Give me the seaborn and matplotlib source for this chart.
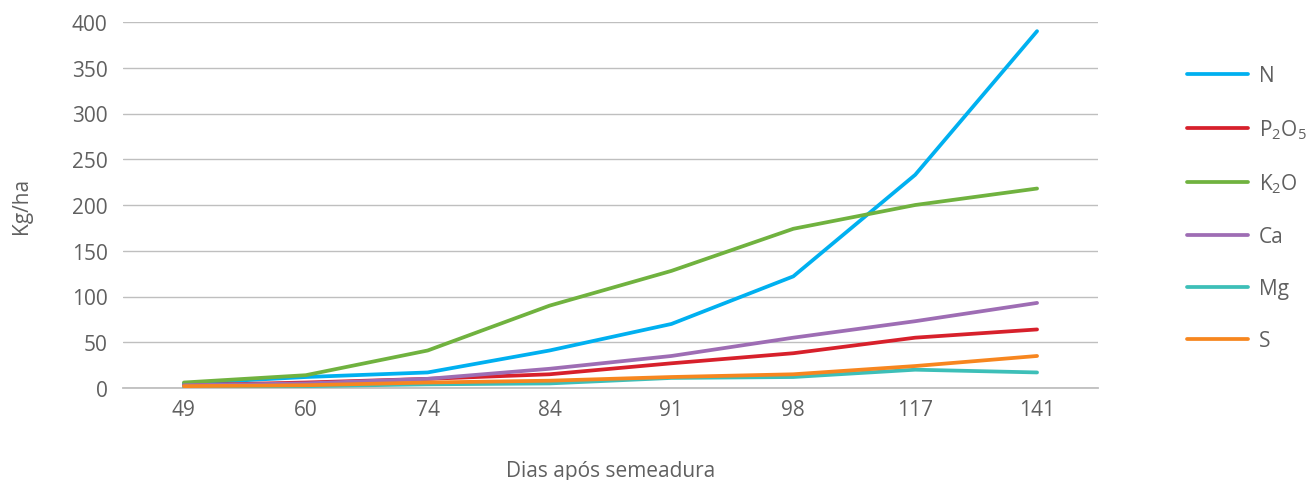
import matplotlib
matplotlib.use("Agg")
import matplotlib.pyplot as plt
import seaborn as sns
import pandas as pd
from matplotlib.lines import Line2D

days = ["49", "60", "74", "84", "91", "98", "117", "141"]
N = [5, 12, 17, 41, 70, 122, 233, 390]
P2O5 = [3, 6, 10, 15, 27, 38, 55, 64]
K2O = [6, 14, 41, 90, 128, 174, 200, 218]
Ca = [3, 5, 10, 21, 35, 55, 73, 93]
Mg = [1, 2, 4, 5, 11, 12, 20, 17]
S = [2, 3, 6, 8, 12, 15, 24, 35]

series_names = ["N", "P2O5", "K2O", "Ca", "Mg", "S"]
series_labels = ["N", r"P$_2$O$_5$", r"K$_2$O", "Ca", "Mg", "S"]
series_values = [N, P2O5, K2O, Ca, Mg, S]
colors = ["#00B0F0", "#D7202B", "#70B23F", "#9E6DB4", "#3DBFB8", "#F7861F"]

sns.set_theme(style="white")
plt.rcParams["font.family"] = ["Open Sans", "DejaVu Sans"]
plt.rcParams["mathtext.fontset"] = "custom"
plt.rcParams["mathtext.rm"] = "Open Sans"
plt.rcParams["mathtext.it"] = "Open Sans"

rows = []
for name, vals in zip(series_names, series_values):
    for d, v in zip(days, vals):
        rows.append({"day": d, "value": v, "nutrient": name})
df = pd.DataFrame(rows)

fig = plt.figure(figsize=(13.06, 4.81), dpi=100)
ax = fig.add_axes([123 / 1306, 1 - 389 / 481, (1098 - 123) / 1306, (389 - 23) / 481])

sns.lineplot(data=df, x="day", y="value", hue="nutrient", hue_order=series_names,
             palette=colors, linewidth=2.7, sort=False, legend=False, ax=ax, zorder=3)

ax.set_xlim(-0.5, len(days) - 0.5)
ax.set_ylim(0, 400)
ax.set_yticks(range(0, 401, 50))
ax.yaxis.grid(True, color="#BFBFBF", linewidth=1.0)
ax.xaxis.grid(False)
for sp in ["top", "right", "left"]:
    ax.spines[sp].set_visible(False)
ax.spines["bottom"].set_color("#BFBFBF")
ax.spines["bottom"].set_linewidth(1.3)

text_color = "#606060"
fs = 15
ax.tick_params(axis="both", length=0, labelsize=fs, colors=text_color)
ax.tick_params(axis="x", pad=8)
ax.tick_params(axis="y", pad=11)
ax.set_xlabel("Dias após semeadura", fontsize=fs, color=text_color, labelpad=29)
ax.set_ylabel("Kg/ha", fontsize=fs, color=text_color, labelpad=29)

handles = [Line2D([0], [0], color=c, linewidth=2.7) for c in colors]
fig.legend(handles, series_labels, loc="upper left", bbox_to_anchor=(1187 / 1306, 1 - 66 / 481),
           frameon=False, handlelength=2.95, labelspacing=1.49, handletextpad=0.5,
           borderaxespad=0, borderpad=0, fontsize=fs, labelcolor=text_color)

fig.savefig("out.png", dpi=100)
